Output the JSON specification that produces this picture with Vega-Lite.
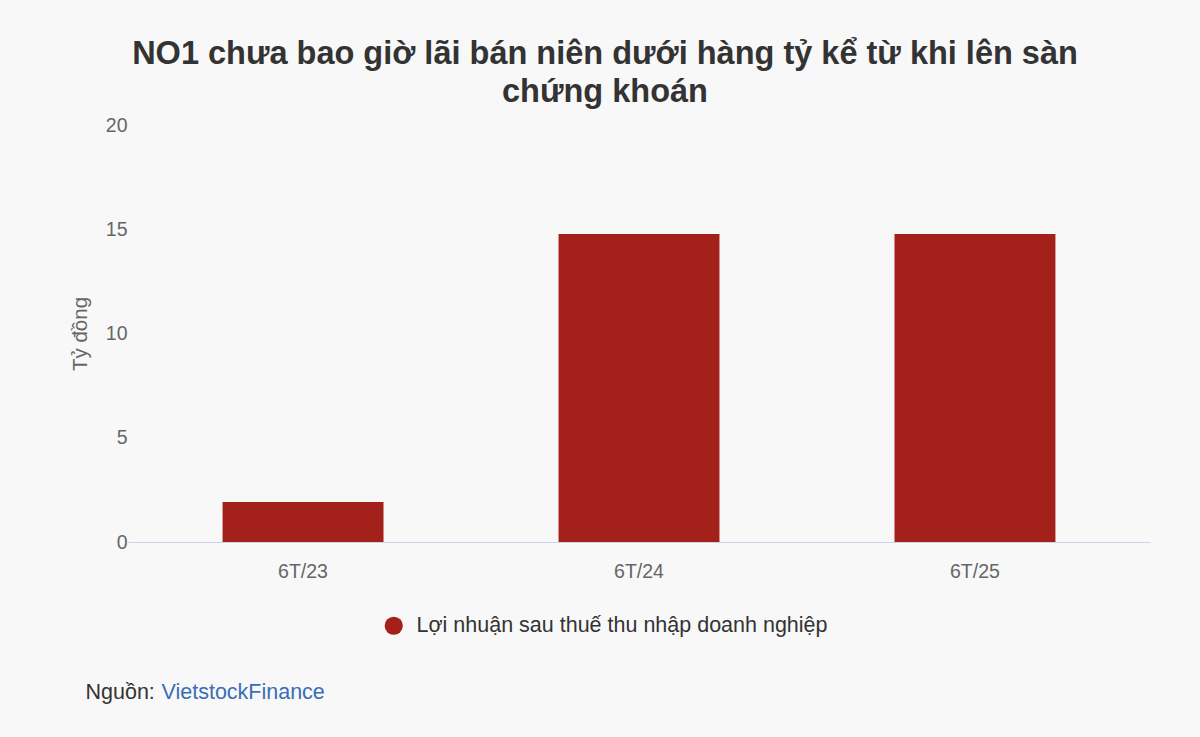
{
  "$schema": "https://vega.github.io/schema/vega-lite/v6.json",
  "width": 1022,
  "height": 417,
  "autosize": {"type": "none"},
  "padding": {"left": 128, "top": 125, "right": 50, "bottom": 195},
  "background": "#f8f8f8",
  "config": {
    "font": "Liberation Sans",
    "view": {"stroke": null}
  },
  "title": {
    "text": ["NO1 chưa bao giờ lãi bán niên dưới hàng tỷ kể từ khi lên sàn", "chứng khoán"],
    "font": "Liberation Sans",
    "fontSize": 32.5,
    "fontWeight": "bold",
    "color": "#333333",
    "anchor": "middle",
    "dx": -34,
    "offset": 7,
    "lineHeight": 38
  },
  "data": {
    "values": [
      {"ky": "6T/23", "loi_nhuan": 1.92, "chi_tieu": "Lợi nhuận sau thuế thu nhập doanh nghiệp"},
      {"ky": "6T/24", "loi_nhuan": 14.77, "chi_tieu": "Lợi nhuận sau thuế thu nhập doanh nghiệp"},
      {"ky": "6T/25", "loi_nhuan": 14.77, "chi_tieu": "Lợi nhuận sau thuế thu nhập doanh nghiệp"}
    ]
  },
  "encoding": {
    "x": {
      "field": "ky",
      "type": "nominal",
      "sort": null,
      "scale": {"paddingInner": 0.521, "paddingOuter": 0.2815},
      "axis": {
        "labelAngle": 0,
        "labelFontSize": 19.5,
        "labelColor": "#666666",
        "labelPadding": 20,
        "ticks": false,
        "domainColor": "#ccd6eb",
        "domainWidth": 1,
        "grid": false,
        "title": "Nguồn:",
        "titleFontSize": 21.5,
        "titleFontWeight": "normal",
        "titleColor": "#333333",
        "titleAnchor": null,
        "titleAlign": "left",
        "titleBaseline": "alphabetic",
        "titleX": -43,
        "titleY": 156
      }
    }
  },
  "layer": [
    {
      "mark": {"type": "bar"},
      "encoding": {
        "y": {
          "field": "loi_nhuan",
          "type": "quantitative",
          "scale": {"domain": [0, 20]},
          "axis": {
            "values": [0, 5, 10, 15, 20],
            "labelFontSize": 19.5,
            "labelColor": "#666666",
            "labelPadding": 1,
            "ticks": false,
            "domain": false,
            "grid": false,
            "title": "Tỷ đồng",
            "titleFontSize": 20.5,
            "titleFontWeight": "normal",
            "titleColor": "#666666",
            "titlePadding": 15
          }
        },
        "color": {
          "field": "chi_tieu",
          "type": "nominal",
          "scale": {"range": ["#a4201a"]},
          "legend": {
            "orient": "none",
            "legendX": 255,
            "legendY": 490,
            "title": null,
            "symbolType": "circle",
            "symbolSize": 330,
            "labelFontSize": 21.5,
            "labelColor": "#333333",
            "labelOffset": 12,
            "labelLimit": 700
          }
        }
      }
    },
    {
      "mark": {"type": "bar", "opacity": 0},
      "encoding": {
        "y": {
          "field": "loi_nhuan",
          "type": "quantitative",
          "scale": {"domain": [0, 20]},
          "axis": {
            "orient": "right",
            "labels": false,
            "ticks": false,
            "domain": false,
            "grid": false,
            "title": "VietstockFinance",
            "titleAngle": 0,
            "titleFontSize": 21.5,
            "titleFontWeight": "normal",
            "titleColor": "#3a6eb5",
            "titleAnchor": null,
            "titleAlign": "left",
            "titleBaseline": "alphabetic",
            "titleX": -989,
            "titleY": 573
          }
        }
      }
    }
  ],
  "resolve": {"scale": {"y": "independent"}}
}
